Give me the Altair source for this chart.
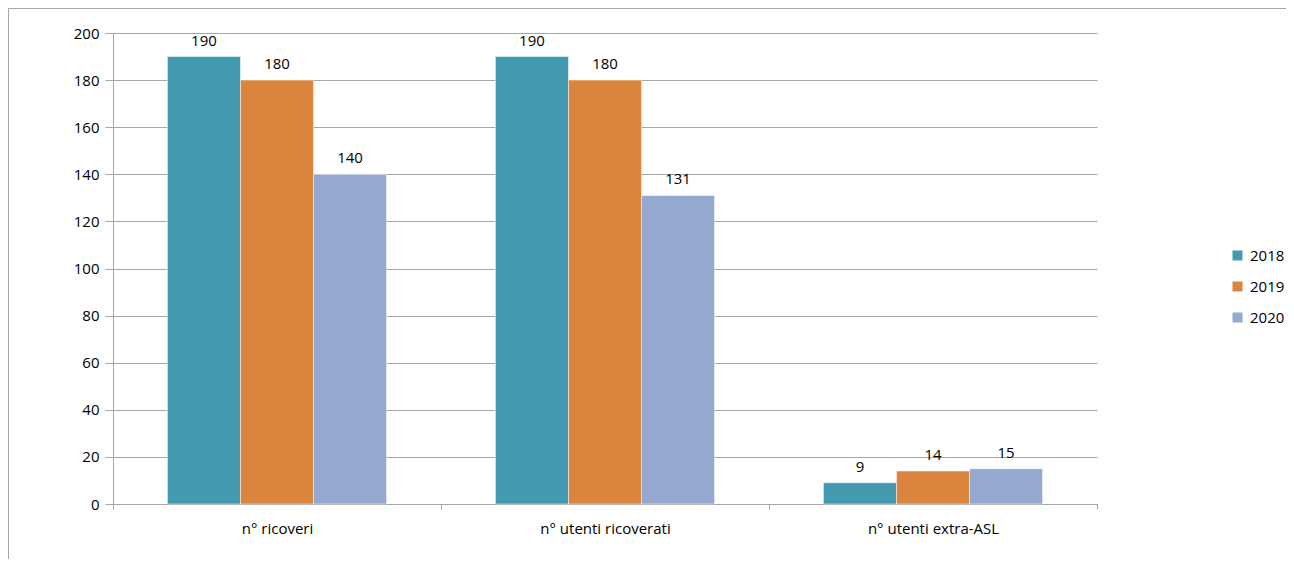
import altair as alt
import pandas as pd

categories = ["n° ricoveri", "n° utenti ricoverati", "n° utenti extra-ASL"]
years = ["2018", "2019", "2020"]
values_2018 = [190, 190, 9]
values_2019 = [180, 180, 14]
values_2020 = [140, 131, 15]
colors = ["#4299B0", "#DB843D", "#95A9D0"]

rows = []
for yr, vals in zip(years, [values_2018, values_2019, values_2020]):
    for c, v in zip(categories, vals):
        rows.append({"cat": c, "year": yr, "value": v})
df = pd.DataFrame(rows)

FONT = "Open Sans"
GRAY = "#A6A6A6"
FS = 15

base = alt.Chart(df).encode(
    x=alt.X("cat:N", sort=categories,
            scale=alt.Scale(paddingInner=0, paddingOuter=0),
            axis=alt.Axis(title=None, labelAngle=0, tickBand="extent",
                          domainColor=GRAY, tickColor=GRAY, tickSize=5,
                          labelPadding=12, labelColor="black",
                          labelFont=FONT, labelFontSize=FS)),
    xOffset=alt.XOffset("year:N", sort=years,
                        scale=alt.Scale(paddingInner=0, paddingOuter=0.745)),
)

bars = base.mark_bar(stroke="white", strokeWidth=0.5).encode(
    y=alt.Y("value:Q", scale=alt.Scale(domain=[0, 200]),
            axis=alt.Axis(title=None, values=list(range(0, 201, 20)),
                          domainColor=GRAY, tickColor=GRAY, tickSize=8,
                          gridColor=GRAY, labelPadding=6, labelColor="black",
                          labelFont=FONT, labelFontSize=FS)),
    color=alt.Color("year:N", sort=years,
                    scale=alt.Scale(domain=years, range=colors),
                    legend=alt.Legend(title=None, orient="none", legendX=1117,
                                      legendY=215, symbolType="square",
                                      symbolSize=100, symbolStrokeWidth=0,
                                      labelFont=FONT, labelFontSize=FS,
                                      labelOffset=5,
                                      labelColor="black", rowPadding=15)),
)

labels = base.mark_text(dy=-11, baseline="alphabetic", font=FONT, fontSize=FS,
                        color="black").encode(
    y=alt.Y("value:Q"),
    text=alt.Text("value:Q"),
)

border_left = alt.Chart(pd.DataFrame({"a": [0]})).mark_rule(color=GRAY, strokeWidth=1).encode(
    x=alt.value(-104.5), y=alt.value(-24.5), y2=alt.value(540)
)
border_top = alt.Chart(pd.DataFrame({"a": [0]})).mark_rule(color=GRAY, strokeWidth=1).encode(
    x=alt.value(-104.5), x2=alt.value(1190), y=alt.value(-24.5)
)

chart = alt.layer(bars, labels, border_left, border_top).properties(
    width=984, height=471,
    autosize=alt.AutoSizeParams(type="none"),
    padding={"left": 105, "top": 25, "right": 189, "bottom": 55},
).configure_view(stroke=None)

chart.save("out.html", embed_options={"renderer": "svg", "actions": False})
